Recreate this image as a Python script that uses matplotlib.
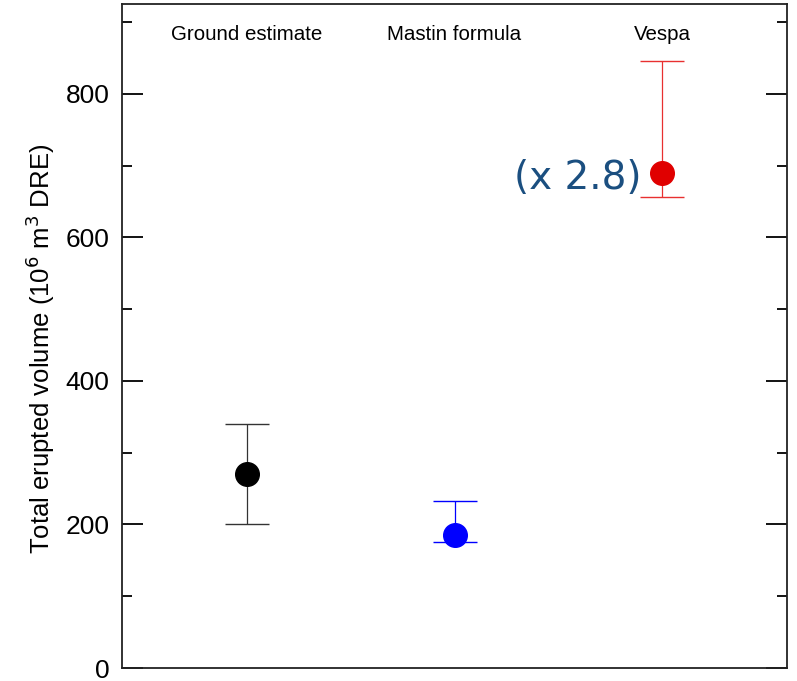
import matplotlib
matplotlib.use("Agg")
import matplotlib.pyplot as plt
from matplotlib.ticker import MultipleLocator

categories = ["Ground estimate", "Mastin formula", "Vespa"]
values = [270, 185, 690]
lower = [200, 176, 656]
upper = [340, 232, 846]
colors = ["black", "#0000ff", "#e00000"]
err_colors = ["#333333", "#0000ff", "#e83030"]
yticks = [0, 200, 400, 600, 800]

fig = plt.figure(figsize=(7.97, 6.81), dpi=100)
ax = fig.add_axes([122/797, 13/681, (787-122)/797, (668-4)/681])

xs = list(range(1, len(categories) + 1))
for x, v, lo, hi, c, ec in zip(xs, values, lower, upper, colors, err_colors):
    ax.errorbar([x], [v], yerr=[[v - lo], [hi - v]], fmt='o', color=c, ecolor=ec,
                markersize=17, elinewidth=0.9, capsize=15.5, capthick=1.0, zorder=3)

for x, name in zip(xs, categories):
    ax.text(x, 882, name, ha='center', va='center', fontsize=14.8,
            family='Liberation Sans', color='black')

ax.text(2.9, 682, "(x 2.8)", ha='right', va='center', fontsize=28,
        family='DejaVu Sans', color='#1b4f80')

ax.set_xlim(0.4, 3.6)
ax.set_ylim(0, 925)
ax.set_xticks([])
ax.set_yticks(yticks)
ax.yaxis.set_minor_locator(MultipleLocator(100))
ax.tick_params(axis='y', which='both', direction='in', left=True, right=True,
               labelleft=True, labelright=False)
ax.tick_params(axis='y', which='major', length=15, width=1.3, labelsize=19, pad=9)
ax.tick_params(axis='y', which='minor', length=7, width=1.3)
for lbl in ax.get_yticklabels():
    lbl.set_family('Liberation Sans')
for s in ax.spines.values():
    s.set_linewidth(1.3)
    s.set_color('#222222')

ax.set_ylabel(r"Total erupted volume (10$^6$ m$^3$ DRE)", fontsize=18.5,
              family='Liberation Sans')
ax.yaxis.set_label_coords(-0.098, 0.48)

fig.savefig("out.png", dpi=100)
